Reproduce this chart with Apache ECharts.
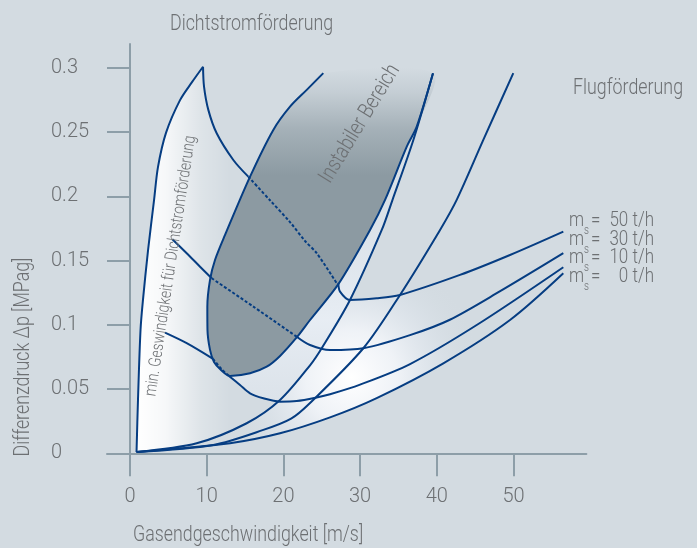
<!DOCTYPE html>
<html><head><meta charset="utf-8">
<script src="https://cdn.jsdelivr.net/npm/echarts@6/dist/echarts.min.js"></script>
<style>html,body{margin:0;padding:0;background:#d3dbe1;}#c{width:697px;height:548px;}</style>
</head><body><div id="c"></div>
<script>
// ---- data ----
const xTicks = [0, 10, 20, 30, 40, 50];
const yTicks = [0, 0.05, 0.1, 0.15, 0.2, 0.25, 0.3];
const yTickLabels = ['0', '0.05', '0.1', '0.15', '0.2', '0.25', '0.3'];
const legendValues = ['50', '30', '10', '0'];

const minVelocity = [[0.85,0.001],[1.04,0.0415],[1.37,0.096],[1.69,0.1194],[2.35,0.158],[3.13,0.197],[3.65,0.223],[4.69,0.2495],[6.52,0.275],[8.08,0.289],[9.52,0.301]];

const ms50Dense = [[9.52,0.301],[9.65,0.2855],[10.21,0.2674],[11.3,0.2492],[13.47,0.2284],[15.42,0.2154]];
const ms50Unstable = [[15.42,0.2154],[18.25,0.197],[20.86,0.18],[22.82,0.1653],[24.34,0.1558],[26.95,0.1324]];
const ms50Lean = [[27.16,0.1324],[27.38,0.1259],[28.68,0.1194],[32.16,0.1207],[35.2,0.1233],[43.02,0.1389],[49.54,0.1544],[56.49,0.1726]];

const ms30Dense = [[5.52,0.1667],[7.39,0.1558],[9.13,0.1453],[10.65,0.1363]];
const ms30Unstable = [[10.65,0.1363],[16.08,0.1142],[21.73,0.0908]];
const ms30Lean = [[21.73,0.0908],[23.47,0.0843],[26.08,0.0804],[30.42,0.0818],[36.5,0.092],[41.7,0.104],[48.2,0.126],[56.49,0.1558]];

const ms10Dense = [[4.56,0.0939],[7.39,0.0857],[10.82,0.0735]];
const ms10Unstable = [[10.82,0.0735],[11.96,0.0654],[12.9,0.0602]];
const ms10Lean = [[12.9,0.0602],[14.34,0.0532],[15.65,0.0467],[17.38,0.0428],[19.56,0.0402],[21.73,0.0407],[24.34,0.0435],[26.08,0.046],[29.99,0.0535],[36.51,0.0695],[45.2,0.0999],[56.49,0.1449]];

const ms0 = [[0.85,0.001],[6.52,0.0039],[13.04,0.0078],[19.56,0.0156],[26.08,0.028],[32.16,0.043],[40.85,0.0701],[49.54,0.1038],[56.49,0.1402]];

const steepLine1 = [[0.85,0.001],[8.69,0.0078],[15.21,0.0234],[19.56,0.0415],[23.47,0.0685],[24.99,0.0818],[28.68,0.1194],[32.82,0.1739],[34.2,0.197],[36.94,0.244],[39.5,0.296]];
const steepLine2 = [[0.85,0.001],[10.86,0.0065],[17.38,0.0182],[21.0,0.027],[23.47,0.0392],[30.42,0.0818],[35.2,0.1233],[40.42,0.1739],[42.59,0.1973],[46.06,0.244],[49.97,0.296]];

const unstableBoundary = [[25.2,0.296],[23.04,0.283],[20.86,0.2699],[18.68,0.2518],[15.65,0.2154],[12.39,0.17],[11.08,0.1505],[10.43,0.135],[10.08,0.1142],[10.1,0.096],[10.43,0.0805],[10.95,0.0711],[11.86,0.0649],[13.04,0.0602],[15.65,0.0623],[17.82,0.0674],[19.56,0.0758],[21.73,0.0902],[23.47,0.1038],[27.16,0.1317],[31.29,0.1739],[33.25,0.1973],[36.08,0.2388],[37.38,0.2544],[39.5,0.296]];

// ---- styles ----
const FONT = 'Roboto, "Liberation Sans", sans-serif';
const WEIGHT = 300;
const NARROW = 0.81;
const TXT = '#6d7073';
const AXIS = '#8d9ea8';
const LINE = '#063d82';
const BG = '#d3dbe1';

// glow regions built from the curves
const glowLeft = [].concat(
  minVelocity,
  ms50Dense.slice(1),
  unstableBoundary.slice(4, 14),
  ms10Lean.slice(1, 5),
  steepLine1.slice(0, 4).reverse()
);
const glowRight = [].concat(
  ms0,
  ms50Lean.slice(2).reverse(),
  steepLine1.slice(0, 7).reverse()
);
const glowBand = [].concat(
  unstableBoundary.slice(13),
  steepLine1.slice(3).reverse(),
  ms10Lean.slice(0, 5).reverse()
);

function polySeries(points, fill, z, smooth) {
  return {
    type: 'custom', coordinateSystem: 'cartesian2d', silent: true, z: z,
    data: [[0, 0]], clip: false, animation: false,
    renderItem: function (params, api) {
      return { type: 'polygon', shape: { points: points.map(p => api.coord(p)), smooth: smooth },
               style: { fill: fill, stroke: null } };
    }
  };
}
function lineSeries(data, dashed) {
  return { type: 'line', data: data, smooth: 0.3, symbol: 'none', silent: true, z: 5, animation: false,
           lineStyle: { color: LINE, width: 2, type: dashed ? [3, 2] : 'solid', cap: 'butt' } };
}

const chart = echarts.init(document.getElementById('c'), null, { renderer: 'canvas' });

const graphics = [];
function txt(x, y, text, size, opts) {
  opts = opts || {};
  graphics.push({
    type: 'text', x: x, y: y, rotation: (opts.rot || 0) * Math.PI / 180,
    scaleX: opts.sx || NARROW, silent: true, z: 100,
    style: { text: text, fontFamily: FONT, fontWeight: WEIGHT, fontSize: size, fill: TXT,
             align: opts.align || 'left', verticalAlign: 'middle' }
  });
}
txt(170, 24, 'Dichtstromförderung', 22);
txt(573, 88, 'Flugförderung', 22);
txt(133, 535, 'Gasendgeschwindigkeit [m/s]', 22);
txt(23, 357, 'Differenzdruck Δp [MPag]', 22, { rot: 90, align: 'center' });
txt(360, 124, 'Instabiler Bereich', 22, { rot: 58.6, align: 'center' });
txt(171, 266, 'min. Geswindigkeit für Dichtstromförderung', 17, { rot: 81.3, align: 'center' });
legendValues.forEach(function (v, i) {
  const y = 221 + i * 18.6;
  txt(569, y, 'm', 21);
  txt(584, y + 10, 's', 12);
  txt(591, y, '=', 21);
  txt(654, y, v + ' t/h', 21, { align: 'right' });
});

const option = {
  backgroundColor: BG,
  animation: false,
  grid: { left: 107, right: 110.6, top: 44, bottom: 94.7, containLabel: false, outerBoundsMode: 'none' },
  xAxis: {
    type: 'value', min: -3, max: 59.5,
    axisLine: { show: true, onZero: true, lineStyle: { color: AXIS, width: 2 } },
    axisTick: { show: true, length: 23, customValues: xTicks, lineStyle: { color: AXIS, width: 2 } },
    axisLabel: { customValues: xTicks, margin: 34, fontFamily: FONT, fontWeight: WEIGHT, fontSize: 20, color: TXT },
    splitLine: { show: false }
  },
  yAxis: {
    type: 'value', min: 0, max: 0.3187,
    axisLine: { show: true, onZero: true, lineStyle: { color: AXIS, width: 2 } },
    axisTick: { show: true, length: 23, customValues: yTicks, lineStyle: { color: AXIS, width: 2 } },
    axisLabel: { customValues: yTicks, margin: 56, align: 'left', fontFamily: FONT, fontWeight: WEIGHT, fontSize: 20, color: TXT,
                 padding: [0, 0, 8, 0],
                 formatter: function (v) { const i = yTicks.findIndex(t => Math.abs(t - v) < 1e-9); return i >= 0 ? yTickLabels[i] : ''; } },
    splitLine: { show: false }
  },
  graphic: graphics,
  series: [
    polySeries(glowLeft, new echarts.graphic.LinearGradient(0, 0, 1, 0, [
      { offset: 0, color: 'rgba(255,255,255,1)' },
      { offset: 0.2, color: 'rgba(255,255,255,0.8)' },
      { offset: 0.45, color: 'rgba(255,255,255,0.25)' },
      { offset: 0.65, color: 'rgba(255,255,255,0)' }]), 1, 0.2),
    polySeries(glowRight, new echarts.graphic.RadialGradient(0.5, 0.66, 0.6, [
      { offset: 0, color: 'rgba(255,255,255,1)' },
      { offset: 0.35, color: 'rgba(246,248,252,0.8)' },
      { offset: 0.7, color: 'rgba(230,236,244,0.3)' },
      { offset: 1, color: 'rgba(211,219,225,0)' }]), 1, 0.2),
    polySeries(glowBand, new echarts.graphic.LinearGradient(0, 0, 0, 1, [
      { offset: 0, color: 'rgba(240,244,250,0)' },
      { offset: 0.45, color: 'rgba(232,238,248,0.35)' },
      { offset: 0.75, color: 'rgba(238,243,250,0.75)' },
      { offset: 1, color: 'rgba(228,234,242,0.5)' }]), 1, 0.2),
    polySeries(unstableBoundary, new echarts.graphic.LinearGradient(0, 0, 0, 1, [
      { offset: 0, color: 'rgba(140,154,162,0)' },
      { offset: 0.08, color: 'rgba(140,154,162,0.2)' },
      { offset: 0.2, color: 'rgba(140,154,162,0.65)' },
      { offset: 0.35, color: 'rgba(140,154,162,1)' },
      { offset: 1, color: 'rgba(140,154,162,1)' }]), 2, 0.3),
    lineSeries(minVelocity),
    lineSeries(ms50Dense), lineSeries(ms50Unstable, true), lineSeries(ms50Lean),
    lineSeries(ms30Dense), lineSeries(ms30Unstable, true), lineSeries(ms30Lean),
    lineSeries(ms10Dense), lineSeries(ms10Unstable, true), lineSeries(ms10Lean),
    lineSeries(ms0),
    lineSeries(steepLine1), lineSeries(steepLine2),
    lineSeries(unstableBoundary)
  ]
};
chart.setOption(option);
</script></body></html>
